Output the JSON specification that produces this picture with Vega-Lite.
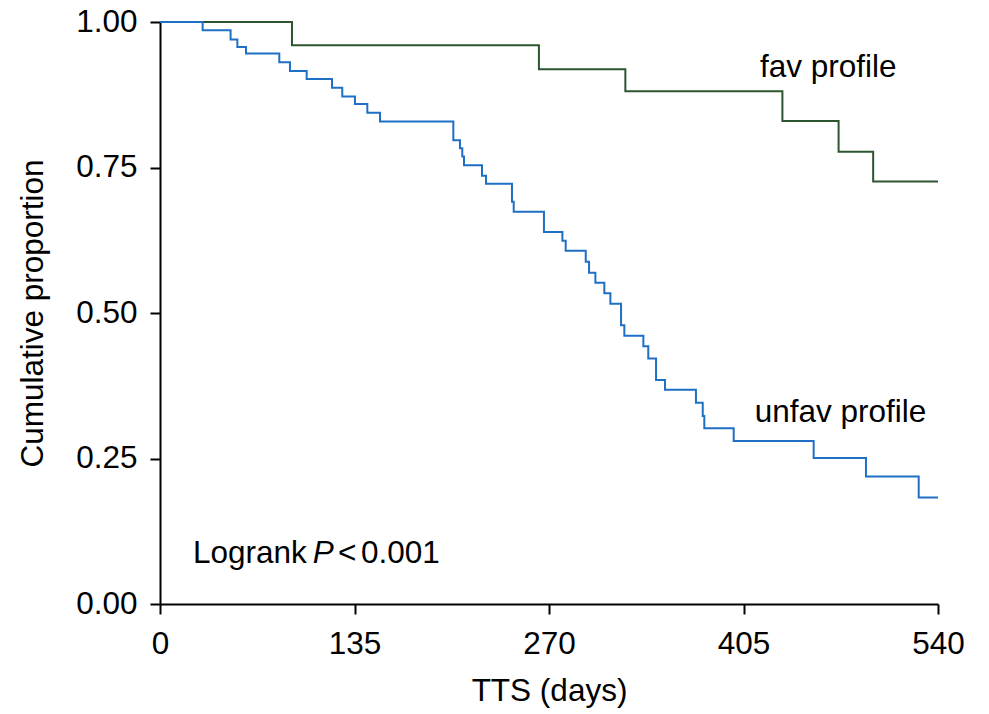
{
  "$schema": "https://vega.github.io/schema/vega-lite/v6.json",
  "width": 778,
  "height": 582,
  "autosize": {"type": "none"},
  "padding": {"left": 160, "top": 22, "right": 51, "bottom": 110},
  "background": "white",
  "config": {
    "view": {"stroke": null},
    "font": "Liberation Sans",
    "axis": {
      "grid": false,
      "domainColor": "black",
      "domainWidth": 2,
      "tickColor": "black",
      "tickWidth": 2,
      "tickSize": 10,
      "labelFontSize": 31.5,
      "labelColor": "black",
      "titleFontSize": 31.5,
      "titleFontWeight": "normal",
      "titleColor": "black",
      "labelFont": "Liberation Sans",
      "titleFont": "Liberation Sans"
    }
  },
  "datasets": {
    "curves": [
      {"group": "fav", "day": 0, "prop": 1.0},
      {"group": "fav", "day": 91.6, "prop": 0.96},
      {"group": "fav", "day": 263, "prop": 0.919},
      {"group": "fav", "day": 323, "prop": 0.881},
      {"group": "fav", "day": 432, "prop": 0.83},
      {"group": "fav", "day": 471, "prop": 0.777},
      {"group": "fav", "day": 495, "prop": 0.726},
      {"group": "fav", "day": 540, "prop": 0.726},
      {"group": "unfav", "day": 0, "prop": 1.0},
      {"group": "unfav", "day": 29.6, "prop": 0.986},
      {"group": "unfav", "day": 49, "prop": 0.97},
      {"group": "unfav", "day": 53.7, "prop": 0.957},
      {"group": "unfav", "day": 59.7, "prop": 0.946},
      {"group": "unfav", "day": 82.8, "prop": 0.931},
      {"group": "unfav", "day": 90.2, "prop": 0.916},
      {"group": "unfav", "day": 101.8, "prop": 0.902},
      {"group": "unfav", "day": 119.4, "prop": 0.887},
      {"group": "unfav", "day": 126.5, "prop": 0.872},
      {"group": "unfav", "day": 135.3, "prop": 0.859},
      {"group": "unfav", "day": 143.9, "prop": 0.844},
      {"group": "unfav", "day": 152.7, "prop": 0.829},
      {"group": "unfav", "day": 203.6, "prop": 0.797},
      {"group": "unfav", "day": 208.2, "prop": 0.783},
      {"group": "unfav", "day": 209.8, "prop": 0.769},
      {"group": "unfav", "day": 211, "prop": 0.754},
      {"group": "unfav", "day": 223.5, "prop": 0.736},
      {"group": "unfav", "day": 226.3, "prop": 0.722},
      {"group": "unfav", "day": 244.3, "prop": 0.691},
      {"group": "unfav", "day": 245.5, "prop": 0.674},
      {"group": "unfav", "day": 266.5, "prop": 0.639},
      {"group": "unfav", "day": 279.3, "prop": 0.624},
      {"group": "unfav", "day": 281.6, "prop": 0.607},
      {"group": "unfav", "day": 295.5, "prop": 0.588},
      {"group": "unfav", "day": 297.8, "prop": 0.569},
      {"group": "unfav", "day": 302.2, "prop": 0.552},
      {"group": "unfav", "day": 308.4, "prop": 0.534},
      {"group": "unfav", "day": 312.6, "prop": 0.516},
      {"group": "unfav", "day": 320, "prop": 0.479},
      {"group": "unfav", "day": 322.3, "prop": 0.461},
      {"group": "unfav", "day": 335.5, "prop": 0.443},
      {"group": "unfav", "day": 338.9, "prop": 0.422},
      {"group": "unfav", "day": 344.3, "prop": 0.385},
      {"group": "unfav", "day": 350.5, "prop": 0.368},
      {"group": "unfav", "day": 372, "prop": 0.346},
      {"group": "unfav", "day": 376.7, "prop": 0.323},
      {"group": "unfav", "day": 377.8, "prop": 0.302},
      {"group": "unfav", "day": 398.2, "prop": 0.28},
      {"group": "unfav", "day": 453.7, "prop": 0.251},
      {"group": "unfav", "day": 490, "prop": 0.219},
      {"group": "unfav", "day": 526.6, "prop": 0.183},
      {"group": "unfav", "day": 540, "prop": 0.183}
    ],
    "labels": [
      {"text": "fav profile", "day": 416.5, "prop": 0.9055, "style": "normal"},
      {"text": "unfav profile", "day": 412.8, "prop": 0.313, "style": "normal"},
      {"text": "Logrank", "day": 22.9, "prop": 0.0704, "style": "normal"},
      {"text": "P", "day": 106, "prop": 0.0704, "style": "italic"},
      {"text": "<", "day": 123.5, "prop": 0.0704, "style": "normal"},
      {"text": "0.001", "day": 139.5, "prop": 0.0704, "style": "normal"}
    ]
  },
  "layer": [
    {
      "data": {"name": "curves"},
      "mark": {"type": "line", "interpolate": "step-after", "strokeWidth": 2},
      "encoding": {
        "x": {
          "field": "day",
          "type": "quantitative",
          "scale": {"domain": [0, 540], "nice": false, "zero": false},
          "axis": {"values": [0, 135, 270, 405, 540], "title": "TTS (days)", "labelPadding": 14, "titlePadding": 16, "labelFlush": false}
        },
        "y": {
          "field": "prop",
          "type": "quantitative",
          "scale": {"domain": [0, 1], "nice": false},
          "axis": {"values": [0, 0.25, 0.5, 0.75, 1], "format": ".2f", "title": "Cumulative proportion", "labelPadding": 13, "titlePadding": 26, "labelFlush": false}
        },
        "color": {
          "field": "group",
          "type": "nominal",
          "scale": {"domain": ["fav", "unfav"], "range": ["#2c5530", "#1f6fc5"]},
          "legend": null
        }
      }
    },
    {
      "data": {"name": "labels"},
      "transform": [{"filter": "datum.style == 'normal'"}],
      "mark": {"type": "text", "align": "left", "baseline": "alphabetic", "fontSize": 31.5, "font": "Liberation Sans", "color": "black"},
      "encoding": {
        "x": {"field": "day", "type": "quantitative"},
        "y": {"field": "prop", "type": "quantitative"},
        "text": {"field": "text"}
      }
    },
    {
      "data": {"name": "labels"},
      "transform": [{"filter": "datum.style == 'italic'"}],
      "mark": {"type": "text", "align": "left", "baseline": "alphabetic", "fontSize": 31.5, "font": "Liberation Sans", "fontStyle": "italic", "color": "black"},
      "encoding": {
        "x": {"field": "day", "type": "quantitative"},
        "y": {"field": "prop", "type": "quantitative"},
        "text": {"field": "text"}
      }
    }
  ]
}
